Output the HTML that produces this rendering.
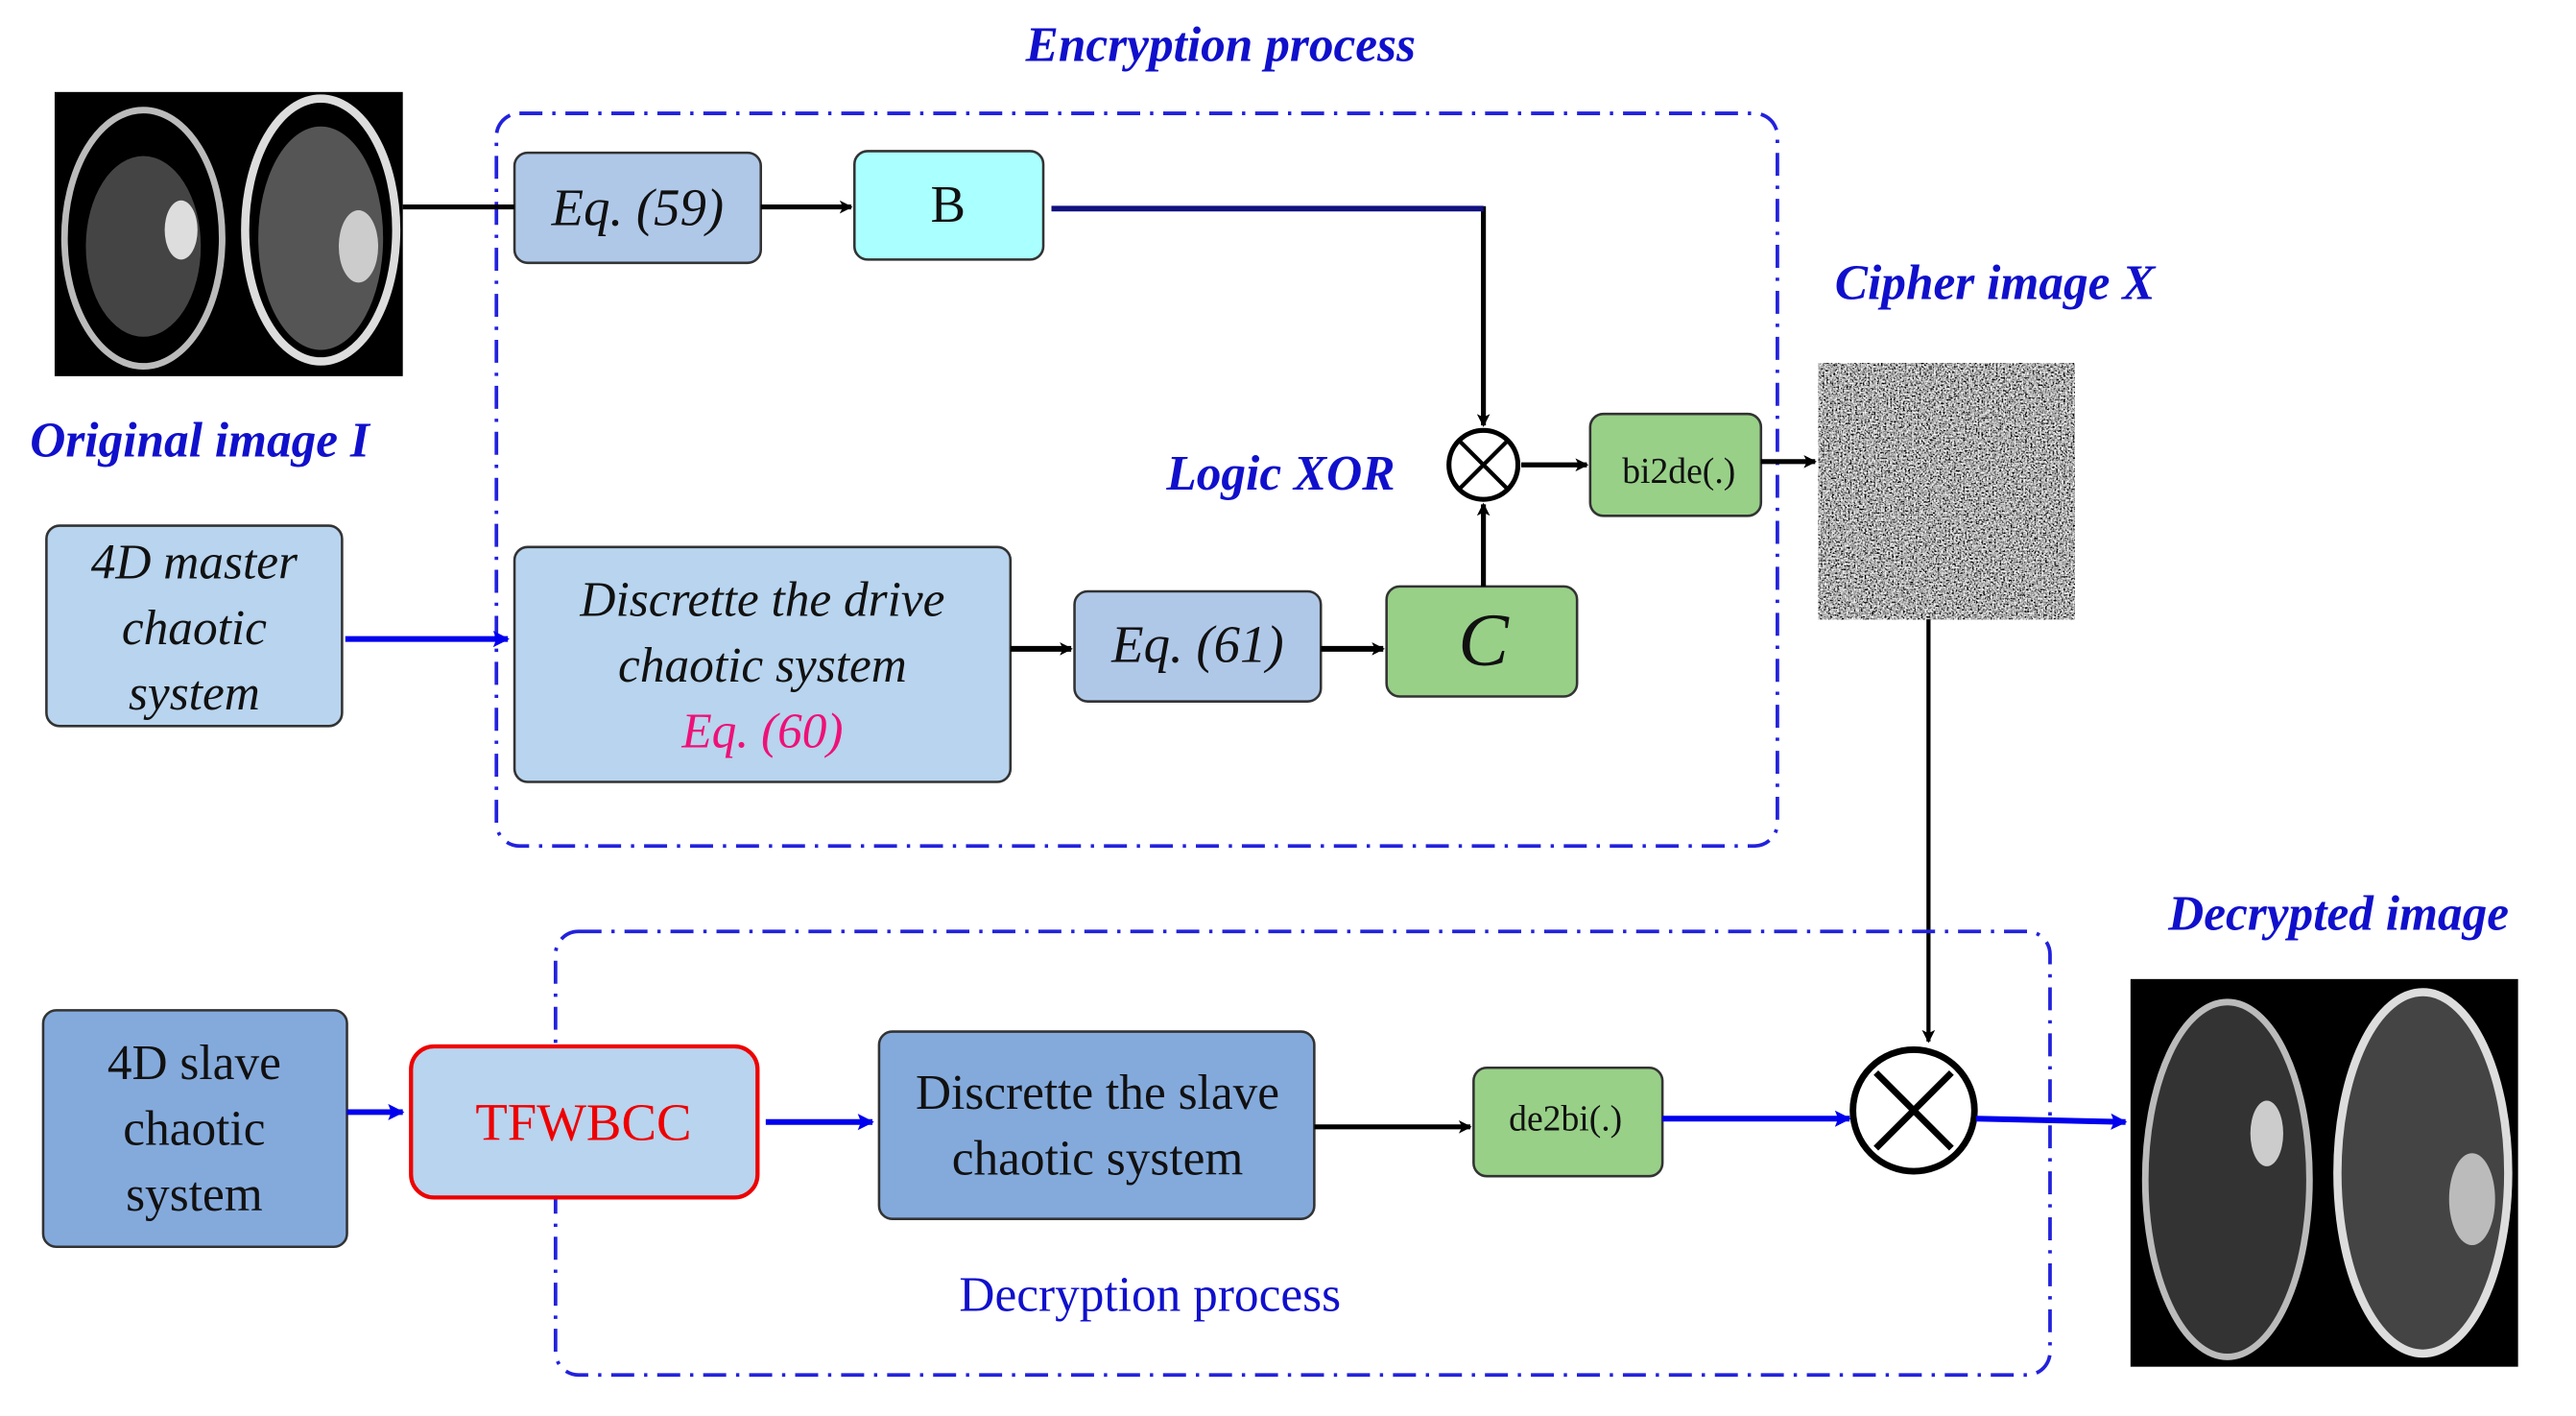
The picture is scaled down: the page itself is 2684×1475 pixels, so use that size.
<!DOCTYPE html>
<html><head><meta charset="utf-8"><style>
html,body{margin:0;padding:0;background:#fff;}
svg{display:block;}
text{font-family:"Liberation Serif",serif;}
</style></head><body>
<svg width="2684" height="1475" viewBox="0 0 1568 862" xmlns="http://www.w3.org/2000/svg">
<defs>
<marker id="ak" markerWidth="8" markerHeight="8" refX="7" refY="4" orient="auto" markerUnits="userSpaceOnUse"><path d="M0,0 L8,4 L0,8 L2,4 z" fill="#000"/></marker>
<marker id="ab" markerWidth="10" markerHeight="10" refX="9" refY="5" orient="auto" markerUnits="userSpaceOnUse"><path d="M0,0 L10,5 L0,10 L2,5 z" fill="#0000ee"/></marker>
<filter id="noise" x="0" y="0" width="100%" height="100%">
<feTurbulence type="fractalNoise" baseFrequency="0.9" numOctaves="2" seed="3"/>
<feColorMatrix type="matrix" values="0.33 0.33 0.33 0 0 0.33 0.33 0.33 0 0 0.33 0.33 0.33 0 0 0 0 0 0 1"/>
<feComponentTransfer><feFuncR type="linear" slope="4" intercept="-1.55"/><feFuncG type="linear" slope="4" intercept="-1.55"/><feFuncB type="linear" slope="4" intercept="-1.55"/></feComponentTransfer>
</filter>
</defs>

<rect x="33" y="56" width="212" height="173" fill="#000"/>
<ellipse cx="87" cy="145" rx="48" ry="78" fill="none" stroke="#bbb" stroke-width="4"/>
<ellipse cx="87" cy="150" rx="35" ry="55" fill="#444"/>
<ellipse cx="195" cy="140" rx="46" ry="80" fill="none" stroke="#ddd" stroke-width="5"/>
<ellipse cx="195" cy="145" rx="38" ry="68" fill="#555"/>
<ellipse cx="218" cy="150" rx="12" ry="22" fill="#ccc"/>
<ellipse cx="110" cy="140" rx="10" ry="18" fill="#ddd"/>

<text x="18" y="278" font-size="30" font-weight="bold" font-style="italic" fill="#1010cc">Original image I</text>
<text x="743" y="37" font-size="30" font-weight="bold" font-style="italic" fill="#1010cc" text-anchor="middle">Encryption process</text>

<rect x="302" y="69" width="780" height="446" rx="14" fill="none" stroke="#2222dd" stroke-width="2.2" stroke-dasharray="14,6,2,6"/>

<rect x="313" y="93" width="150" height="67" rx="8" fill="#b0c8e8" stroke="#333" stroke-width="1.5"/>
<text x="388" y="137" font-size="32" font-style="italic" text-anchor="middle" fill="#111">Eq. (59)</text>
<rect x="520" y="92" width="115" height="66" rx="8" fill="#aaffff" stroke="#333" stroke-width="1.5"/>
<text x="577" y="135" font-size="32" text-anchor="middle" fill="#111">B</text>

<line x1="245" y1="126" x2="313" y2="126" stroke="#000" stroke-width="3"/>
<line x1="463" y1="126" x2="518" y2="126" stroke="#000" stroke-width="3" marker-end="url(#ak)"/>
<polyline points="640,127 903,127 903,259" fill="none" stroke="#000" stroke-width="3" marker-end="url(#ak)"/>
<line x1="640" y1="127" x2="903" y2="127" stroke="#101080" stroke-width="3.5"/>

<circle cx="903" cy="283" r="21" fill="#fff" stroke="#000" stroke-width="3"/>
<line x1="888" y1="268" x2="918" y2="298" stroke="#000" stroke-width="2.5"/>
<line x1="918" y1="268" x2="888" y2="298" stroke="#000" stroke-width="2.5"/>
<line x1="926" y1="283" x2="966" y2="283" stroke="#000" stroke-width="3" marker-end="url(#ak)"/>
<text x="710" y="298" font-size="30" font-weight="bold" font-style="italic" fill="#1010cc">Logic XOR</text>

<rect x="968" y="252" width="104" height="62" rx="8" fill="#98d088" stroke="#333" stroke-width="1.5"/>
<text x="1022" y="294" font-size="22" text-anchor="middle" fill="#111">bi2de(.)</text>
<line x1="1072" y1="281" x2="1105" y2="281" stroke="#000" stroke-width="3" marker-end="url(#ak)"/>

<rect x="1107" y="221" width="156" height="156" fill="#777"/>
<rect x="1107" y="221" width="156" height="156" filter="url(#noise)"/>
<text x="1117" y="182" font-size="30" font-weight="bold" font-style="italic" fill="#1010cc">Cipher image X</text>

<rect x="28" y="320" width="180" height="122" rx="8" fill="#b8d4ee" stroke="#333" stroke-width="1.5"/>
<text x="118" y="352" font-size="30" font-style="italic" text-anchor="middle" fill="#111">4D master</text>
<text x="118" y="392" font-size="30" font-style="italic" text-anchor="middle" fill="#111">chaotic</text>
<text x="118" y="432" font-size="30" font-style="italic" text-anchor="middle" fill="#111">system</text>
<line x1="210" y1="389" x2="309" y2="389" stroke="#0000ee" stroke-width="3.5" marker-end="url(#ab)"/>

<rect x="313" y="333" width="302" height="143" rx="8" fill="#b8d4ee" stroke="#333" stroke-width="1.5"/>
<text x="464" y="375" font-size="30" font-style="italic" text-anchor="middle" fill="#111">Discrette the drive</text>
<text x="464" y="415" font-size="30" font-style="italic" text-anchor="middle" fill="#111">chaotic system</text>
<text x="464" y="455" font-size="30" font-style="italic" text-anchor="middle" fill="#ee1177">Eq. (60)</text>
<line x1="615" y1="395" x2="652" y2="395" stroke="#000" stroke-width="3.5" marker-end="url(#ak)"/>

<rect x="654" y="360" width="150" height="67" rx="8" fill="#b0c8e8" stroke="#333" stroke-width="1.5"/>
<text x="729" y="403" font-size="32" font-style="italic" text-anchor="middle" fill="#111">Eq. (61)</text>
<line x1="804" y1="395" x2="842" y2="395" stroke="#000" stroke-width="3.5" marker-end="url(#ak)"/>

<rect x="844" y="357" width="116" height="67" rx="8" fill="#98d088" stroke="#333" stroke-width="1.5"/>
<text x="903" y="405" font-size="46" font-style="italic" text-anchor="middle" fill="#111">C</text>
<line x1="903" y1="357" x2="903" y2="307" stroke="#000" stroke-width="3" marker-end="url(#ak)"/>

<line x1="1174" y1="377" x2="1174" y2="634" stroke="#000" stroke-width="2.5" marker-end="url(#ak)"/>

<rect x="338" y="567" width="910" height="270" rx="14" fill="none" stroke="#2222dd" stroke-width="2.2" stroke-dasharray="14,6,2,6"/>
<text x="1320" y="566" font-size="30" font-weight="bold" font-style="italic" fill="#1010cc">Decrypted image</text>
<text x="700" y="798" font-size="30" text-anchor="middle" fill="#1010cc">Decryption process</text>

<rect x="26" y="615" width="185" height="144" rx="8" fill="#84aadc" stroke="#333" stroke-width="1.5"/>
<text x="118" y="657" font-size="30" text-anchor="middle" fill="#111">4D slave</text>
<text x="118" y="697" font-size="30" text-anchor="middle" fill="#111">chaotic</text>
<text x="118" y="737" font-size="30" text-anchor="middle" fill="#111">system</text>
<line x1="211" y1="677" x2="245" y2="677" stroke="#0000ee" stroke-width="3.5" marker-end="url(#ab)"/>

<rect x="250" y="637" width="211" height="92" rx="14" fill="#b8d4ee" stroke="#ee0000" stroke-width="2.5"/>
<text x="355" y="694" font-size="32" text-anchor="middle" fill="#ee0000">TFWBCC</text>
<line x1="466" y1="683" x2="531" y2="683" stroke="#0000ee" stroke-width="3.5" marker-end="url(#ab)"/>

<rect x="535" y="628" width="265" height="114" rx="8" fill="#84aadc" stroke="#333" stroke-width="1.5"/>
<text x="668" y="675" font-size="30" text-anchor="middle" fill="#111">Discrette the slave</text>
<text x="668" y="715" font-size="30" text-anchor="middle" fill="#111">chaotic system</text>
<line x1="800" y1="686" x2="895" y2="686" stroke="#000" stroke-width="3" marker-end="url(#ak)"/>

<rect x="897" y="650" width="115" height="66" rx="8" fill="#98d088" stroke="#333" stroke-width="1.5"/>
<text x="953" y="688" font-size="22" text-anchor="middle" fill="#111">de2bi(.)</text>
<line x1="1012" y1="681" x2="1126" y2="681" stroke="#0000ee" stroke-width="3.5" marker-end="url(#ab)"/>

<circle cx="1165" cy="676" r="37" fill="#fff" stroke="#000" stroke-width="4"/>
<line x1="1142" y1="653" x2="1188" y2="699" stroke="#000" stroke-width="4"/>
<line x1="1188" y1="653" x2="1142" y2="699" stroke="#000" stroke-width="4"/>
<line x1="1203" y1="681" x2="1294" y2="683" stroke="#0000ee" stroke-width="3.5" marker-end="url(#ab)"/>

<rect x="1297" y="596" width="236" height="236" fill="#000"/>
<ellipse cx="1356" cy="718" rx="50" ry="108" fill="#333" stroke="#bbb" stroke-width="4"/>
<ellipse cx="1475" cy="714" rx="52" ry="110" fill="#444" stroke="#ddd" stroke-width="5"/>
<ellipse cx="1505" cy="730" rx="14" ry="28" fill="#bbb"/>
<ellipse cx="1380" cy="690" rx="10" ry="20" fill="#ccc"/>
</svg>
</body></html>
